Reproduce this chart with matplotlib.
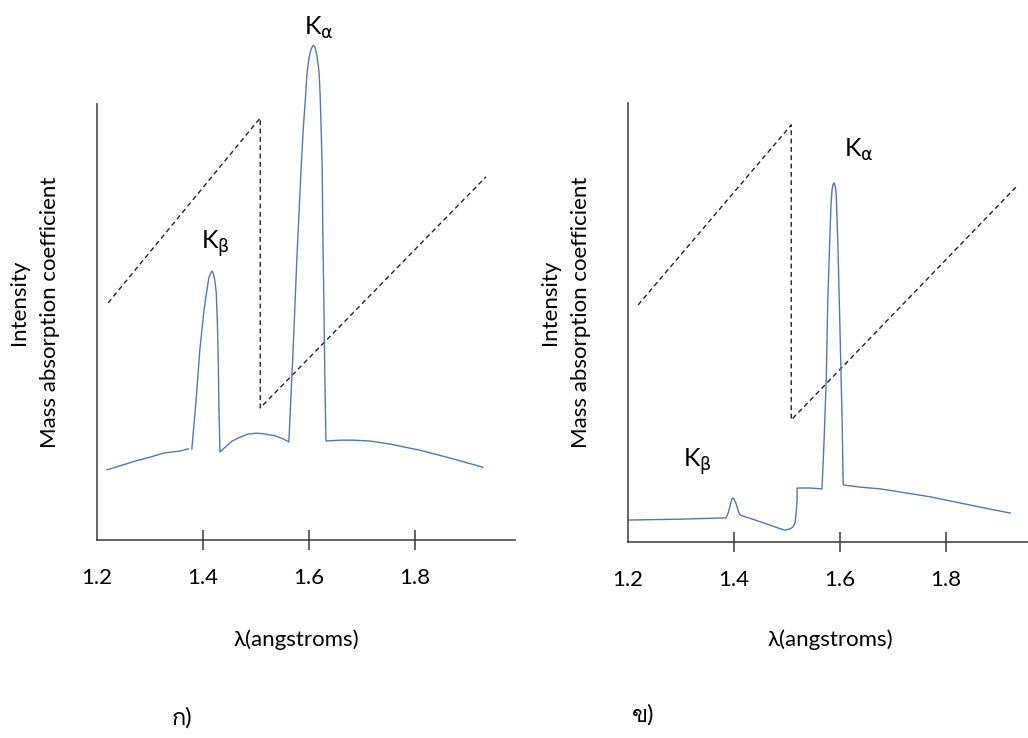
import matplotlib
matplotlib.use("Agg")
import matplotlib.pyplot as plt
from matplotlib import font_manager

# look for any installed font that has Thai glyphs, for the panel labels
thai_fonts = []
for f in font_manager.fontManager.ttflist:
    if "Thai" in f.name or f.name in ("Loma", "Garuda", "Kinnari", "Norasi", "Waree", "Sawasdee", "Umpush"):
        if f.name not in thai_fonts:
            thai_fonts.append(f.name)

fonts = ["Lato", "DejaVu Sans"] + thai_fonts
plt.rcParams["font.family"] = fonts
plt.rcParams["mathtext.fontset"] = "dejavusans"

# ---- data (wavelength in angstroms, intensity in arbitrary units 0-100) ----
ticks = [1.2, 1.4, 1.6, 1.8]
tick_labels = ["1.2", "1.4", "1.6", "1.8"]

# panel a (unfiltered)
a_base_x = [1.219, 1.243, 1.272, 1.300, 1.328, 1.357, 1.372]
a_base_y = [16.1, 17.0, 18.1, 19.0, 20.0, 20.4, 20.9]

a_x = [1.379, 1.387, 1.394, 1.402, 1.408, 1.411, 1.415, 1.417, 1.419, 1.422, 1.425, 1.427, 1.429, 1.430, 1.432,
       1.442, 1.455, 1.470, 1.485, 1.502, 1.517, 1.536, 1.551, 1.562,
       1.570, 1.577, 1.585, 1.589, 1.593, 1.596, 1.600, 1.604, 1.608, 1.611, 1.615, 1.619,
       1.621, 1.623, 1.625, 1.626, 1.628, 1.630, 1.632,
       1.659, 1.683, 1.715, 1.753, 1.809, 1.866, 1.928]
a_y = [20.9, 32.1, 43.6, 52.8, 57.8, 60.1, 61.3, 61.7, 61.3, 59.8, 56.8, 50.5, 40.0, 30.5, 20.2,
       21.3, 22.7, 23.6, 24.3, 24.5, 24.3, 23.9, 23.2, 22.5,
       43.6, 64.2, 84.9, 94.0, 100.9, 106.7, 110.6, 112.6, 113.5, 113.1, 111.2, 107.3,
       102.1, 94.0, 84.9, 71.1, 55.0, 36.7, 22.7,
       22.9, 22.9, 22.7, 22.0, 20.6, 18.8, 16.7]

# absorption edge (dashed)
a_abs_x = [1.221, 1.508, 1.508, 1.934]
a_abs_y = [54.4, 96.8, 30.3, 83.3]

# panel b (filtered)
b_x = [1.200, 1.298, 1.385, 1.389, 1.393, 1.396, 1.398, 1.400, 1.404, 1.408, 1.411,
       1.417, 1.440, 1.462, 1.483, 1.496, 1.506, 1.511, 1.515, 1.517, 1.519, 1.519,
       1.543, 1.566,
       1.570, 1.574, 1.577, 1.581, 1.583, 1.585, 1.587, 1.589, 1.591, 1.593, 1.594, 1.596, 1.600, 1.604, 1.606,
       1.638, 1.676, 1.713, 1.770, 1.826, 1.883, 1.921]
b_y = [5.0, 5.2, 5.5, 6.6, 8.4, 9.8, 10.0, 9.8, 8.7, 7.1, 6.2,
       5.9, 5.0, 4.1, 3.2, 2.7, 3.0, 3.4, 4.3, 6.2, 9.6, 12.3,
       12.3, 12.1,
       23.2, 36.9, 55.1, 69.9, 76.8, 80.2, 81.5, 81.8, 81.1, 79.0, 74.9, 67.7, 48.3, 27.8, 13.0,
       12.5, 12.1, 11.4, 10.3, 8.9, 7.5, 6.6]

b_abs_x = [1.219, 1.508, 1.508, 1.934]
b_abs_y = [54.0, 95.0, 27.8, 81.1]

blue = "#5577aa"
axis_col = "#3a3a3a"
fs = 16

fig = plt.figure(figsize=(10.28, 7.38), dpi=100)
W, H = 1028, 738


def setup(ax, xmax):
    ax.set_xlim(1.2, xmax)
    ax.set_ylim(0, 100)
    for s in ["top", "right"]:
        ax.spines[s].set_visible(False)
    for s in ["left", "bottom"]:
        ax.spines[s].set_color(axis_col)
        ax.spines[s].set_linewidth(1.1)
    ax.set_xticks(ticks)
    ax.set_xticklabels(tick_labels, fontsize=fs)
    ax.set_yticks([])
    ax.tick_params(axis="x", direction="inout", length=15, width=1.1, color=axis_col, pad=13)
    ax.xaxis.get_major_ticks()[0].tick1line.set_visible(False)


dash = (0, (3.5, 2.5))

# left panel
ax1 = fig.add_axes([97 / W, 1 - 540 / H, 418 / W, 436 / H])
setup(ax1, 1.2 + 418 / 530)
ax1.plot(a_abs_x, a_abs_y, color="#222222", lw=1.0, linestyle=dash, clip_on=False)
ax1.plot(a_base_x, a_base_y, color=blue, lw=1.0, clip_on=False)
ax1.plot(a_x, a_y, color=blue, lw=1.0, clip_on=False)
ax1.text(1.619, 117.5, r"K$_\mathrm{\alpha}$", fontsize=18, ha="center", va="center")
ax1.text(1.423, 68.0, r"K$_\mathrm{\beta}$", fontsize=18, ha="center", va="center")

# right panel
ax2 = fig.add_axes([628 / W, 1 - 542 / H, 400 / W, 439 / H])
setup(ax2, 1.2 + 400 / 530)
ax2.plot(b_abs_x, b_abs_y, color="#222222", lw=1.0, linestyle=dash, clip_on=False)
ax2.plot(b_x, b_y, color=blue, lw=1.0, clip_on=False)
ax2.text(1.636, 89.3, r"K$_\mathrm{\alpha}$", fontsize=18, ha="center", va="center")
ax2.text(1.330, 18.2, r"K$_\mathrm{\beta}$", fontsize=18, ha="center", va="center")

# axis titles
for x0, lab_x in [(0, 296), (531, 830)]:
    fig.text((x0 + 19) / W, 1 - 302 / H, "Intensity", rotation=90, fontsize=fs, ha="center", va="center")
    fig.text((x0 + 50) / W, 1 - 312 / H, "Mass absorption coefficient", rotation=90, fontsize=fs,
             ha="center", va="center")
    fig.text(lab_x / W, 1 - 640 / H, "λ(angstroms)", fontsize=fs, ha="center", va="center")

fig.text(182 / W, 1 - 718 / H, "ก)", fontsize=fs + 1, ha="center", va="center")
fig.text(643 / W, 1 - 715 / H, "ข)", fontsize=fs + 1, ha="center", va="center")

fig.savefig("out.png", dpi=100)
